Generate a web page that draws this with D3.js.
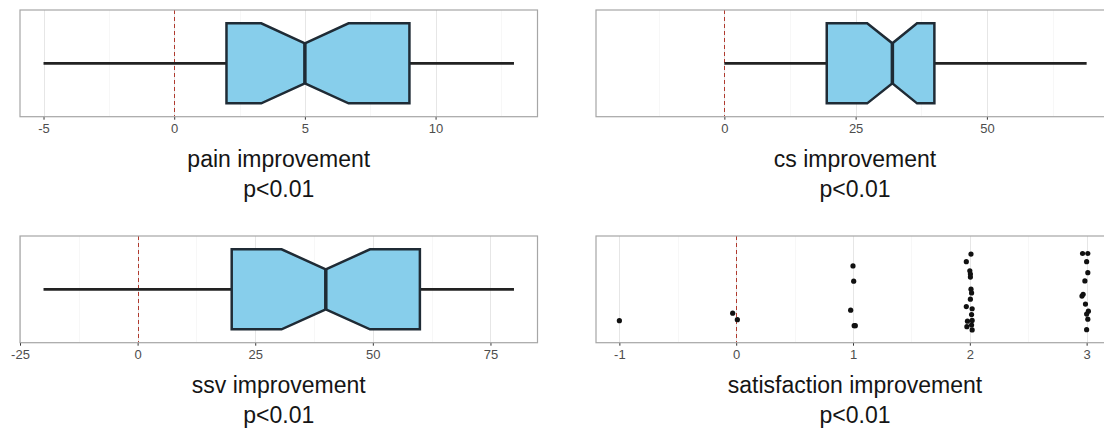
<!DOCTYPE html>
<html lang='en'>
	<head>
		<meta charset='utf-8'>
		<title>Improvement plots</title>
		<script type='text/javascript' src='https://cdn.jsdelivr.net/npm/d3@7/dist/d3.min.js'></script>
		<style>
			body { margin: 0; background: #fff; }
			text { font-family: 'Liberation Sans', Arial, sans-serif; }
		</style>
	</head>
	<body>
	</body>
	<script type='text/javascript'>
	// box plot panels: pain, cs, ssv
	var box_names = ['pain improvement', 'cs improvement', 'ssv improvement'];
	var box_pvals = ['p<0.01', 'p<0.01', 'p<0.01'];
	var whisker_lo = [-5, 0, -20];
	var q1 = [2, 19.5, 20];
	var median = [5, 32, 40];
	var q3 = [9, 40, 60];
	var whisker_hi = [13, 69, 80];
	var notch_lo = [3.33, 27.2, 30.6];
	var notch_hi = [6.67, 36.7, 49.4];
	var data_limits = [[-5, 13], [-20, 69], [-20, 80]];
	var tick_step = [5, 25, 25];

	// satisfaction panel: jittered points (x = score, y = vertical jitter)
	var sat_name = 'satisfaction improvement';
	var sat_pval = 'p<0.01';
	var sat_limits = [-1, 3];
	var sat_x = [-1.0,
		-0.03, 0.01,
		1.0, 1.006, 0.98, 1.01, 1.02,
		2.01, 1.97, 2.0, 2.005, 2.005, 2.01, 2.015, 2.005, 1.97, 2.02, 2.015, 1.98, 2.02, 2.015, 1.975, 2.02,
		2.965, 3.01, 3.0, 3.01, 2.985, 2.97, 2.96, 2.99, 3.015, 3.0, 3.01, 3.0];
	var sat_y = [0.648,
		0.732, 0.659,
		1.263, 1.092, 0.766, 0.592, 0.592,
		1.397, 1.311, 1.209, 1.172, 1.138, 1.002, 0.960, 0.890, 0.806, 0.782, 0.716, 0.642, 0.650, 0.599, 0.58, 0.544,
		1.403, 1.403, 1.311, 1.188, 1.095, 0.944, 0.924, 0.834, 0.755, 0.722, 0.665, 0.546];

	var width = 1104, height = 428;
	var panel_h = 106.7;
	var panels = [
		{x: 20, y: 10, w: 517.5},
		{x: 596, y: 10, w: 514},
		{x: 20, y: 236, w: 517.5},
		{x: 596, y: 236, w: 514}
	];

	var svg = d3.select('body').append('svg').attr('width', width).attr('height', height);

	function expand(lim) {
		var d = (lim[1] - lim[0]) * 0.05;
		return [lim[0] - d, lim[1] + d];
	}

	// snap a vertical hairline to the pixel grid of the whole page
	function snap(px, offset) {
		return Math.round(px + offset) - offset + 0.5;
	}

	function make_panel(p, lim, step, name, pval) {
		var g = svg.append('g').attr('transform', 'translate(' + p.x + ',' + p.y + ')');
		var x = d3.scaleLinear().domain(expand(lim)).range([0, p.w]);
		var y = d3.scaleLinear().domain([0.4, 1.6]).range([panel_h, 0]);
		var dom = x.domain();
		var first = Math.ceil(dom[0] / step) * step;
		var major = d3.range(first, dom[1] + 1e-9, step);
		var minor = d3.range(Math.ceil(dom[0] / (step / 2)) * (step / 2), dom[1], step / 2)
			.filter(v => Math.abs(v / step - Math.round(v / step)) > 1e-6);

		var clip_id = 'clip' + p.x + '_' + p.y;
		g.append('clipPath').attr('id', clip_id).append('rect').attr('width', p.w).attr('height', panel_h);
		var inner = g.append('g').attr('clip-path', 'url(#' + clip_id + ')');

		inner.selectAll('.minor').data(minor).enter().append('line')
			.attr('x1', d => snap(x(d), p.x)).attr('x2', d => snap(x(d), p.x)).attr('y1', 0).attr('y2', panel_h)
			.attr('stroke', '#f2f2f2').attr('stroke-width', 0.6);
		inner.selectAll('.major').data(major).enter().append('line')
			.attr('x1', d => snap(x(d), p.x)).attr('x2', d => snap(x(d), p.x)).attr('y1', 0).attr('y2', panel_h)
			.attr('stroke', '#e6e6e6').attr('stroke-width', 1);

		// reference line at zero
		inner.append('line')
			.attr('x1', snap(x(0), p.x)).attr('x2', snap(x(0), p.x)).attr('y1', 0).attr('y2', panel_h)
			.attr('stroke', '#b03a2e').attr('stroke-width', 1).attr('stroke-dasharray', '4,3');

		// bottom axis
		var axis = g.append('g').attr('transform', 'translate(0,' + panel_h + ')')
			.call(d3.axisBottom(x).tickValues(major).tickSize(3).tickPadding(4).tickFormat(d3.format('d')));
		axis.select('.domain').remove();
		axis.selectAll('line').attr('stroke', '#333');
		axis.selectAll('text').attr('fill', '#4d4d4d').attr('font-size', '13px')
			.attr('font-family', "'Liberation Sans', Arial, sans-serif").text(d => d < 0 ? '-' + Math.abs(d) : d);

		// titles
		g.append('text').attr('x', p.w / 2 + (p.w < 517 ? 2 : 0)).attr('y', panel_h + 50).attr('text-anchor', 'middle')
			.attr('font-size', '23px').attr('fill', '#151515').text(name);
		g.append('text').attr('x', p.w / 2 + (p.w < 517 ? 2 : 0)).attr('y', panel_h + 80).attr('text-anchor', 'middle')
			.attr('font-size', '23px').attr('fill', '#151515').text(pval);

		return {g: g, inner: inner, x: x, y: y, w: p.w};
	}

	function draw_border(pan) {
		pan.g.append('rect').attr('x', 0).attr('y', 0).attr('width', pan.w).attr('height', panel_h)
			.attr('fill', 'none').attr('stroke', '#a6a6a6').attr('stroke-width', 1.2);
	}

	var order = [0, 1, 2];
	order.forEach(function(i) {
		var pan = make_panel(panels[i], data_limits[i], tick_step[i], box_names[i], box_pvals[i]);
		var x = pan.x, y = pan.y;
		var top = y(1.45), bot = y(0.55), ntop = y(1.225), nbot = y(0.775), mid = y(1);

		pan.inner.append('line')
			.attr('x1', x(whisker_lo[i])).attr('x2', x(q1[i])).attr('y1', mid).attr('y2', mid)
			.attr('stroke', '#222').attr('stroke-width', 2.7);
		pan.inner.append('line')
			.attr('x1', x(q3[i])).attr('x2', x(whisker_hi[i])).attr('y1', mid).attr('y2', mid)
			.attr('stroke', '#222').attr('stroke-width', 2.7);

		var pts = [
			[x(q1[i]), top], [x(notch_lo[i]), top], [x(median[i]), ntop], [x(notch_hi[i]), top],
			[x(q3[i]), top], [x(q3[i]), bot], [x(notch_hi[i]), bot], [x(median[i]), nbot],
			[x(notch_lo[i]), bot], [x(q1[i]), bot]
		];
		pan.inner.append('path')
			.attr('d', d3.line()(pts) + 'Z')
			.attr('fill', '#87ceeb').attr('stroke', '#1f2b35').attr('stroke-width', 2.5)
			.attr('stroke-linejoin', 'miter');
		pan.inner.append('line')
			.attr('x1', x(median[i])).attr('x2', x(median[i])).attr('y1', ntop).attr('y2', nbot)
			.attr('stroke', '#1f2b35').attr('stroke-width', 3.5);
		draw_border(pan);
	});

	var sat = make_panel(panels[3], sat_limits, 1, sat_name, sat_pval);
	sat.inner.selectAll('.pt').data(d3.range(sat_x.length)).enter().append('circle')
		.attr('cx', d => sat.x(sat_x[d]))
		.attr('cy', d => sat.y(sat_y[d]))
		.attr('r', 2.6)
		.attr('fill', '#111');
	draw_border(sat);
	</script>
</html>
